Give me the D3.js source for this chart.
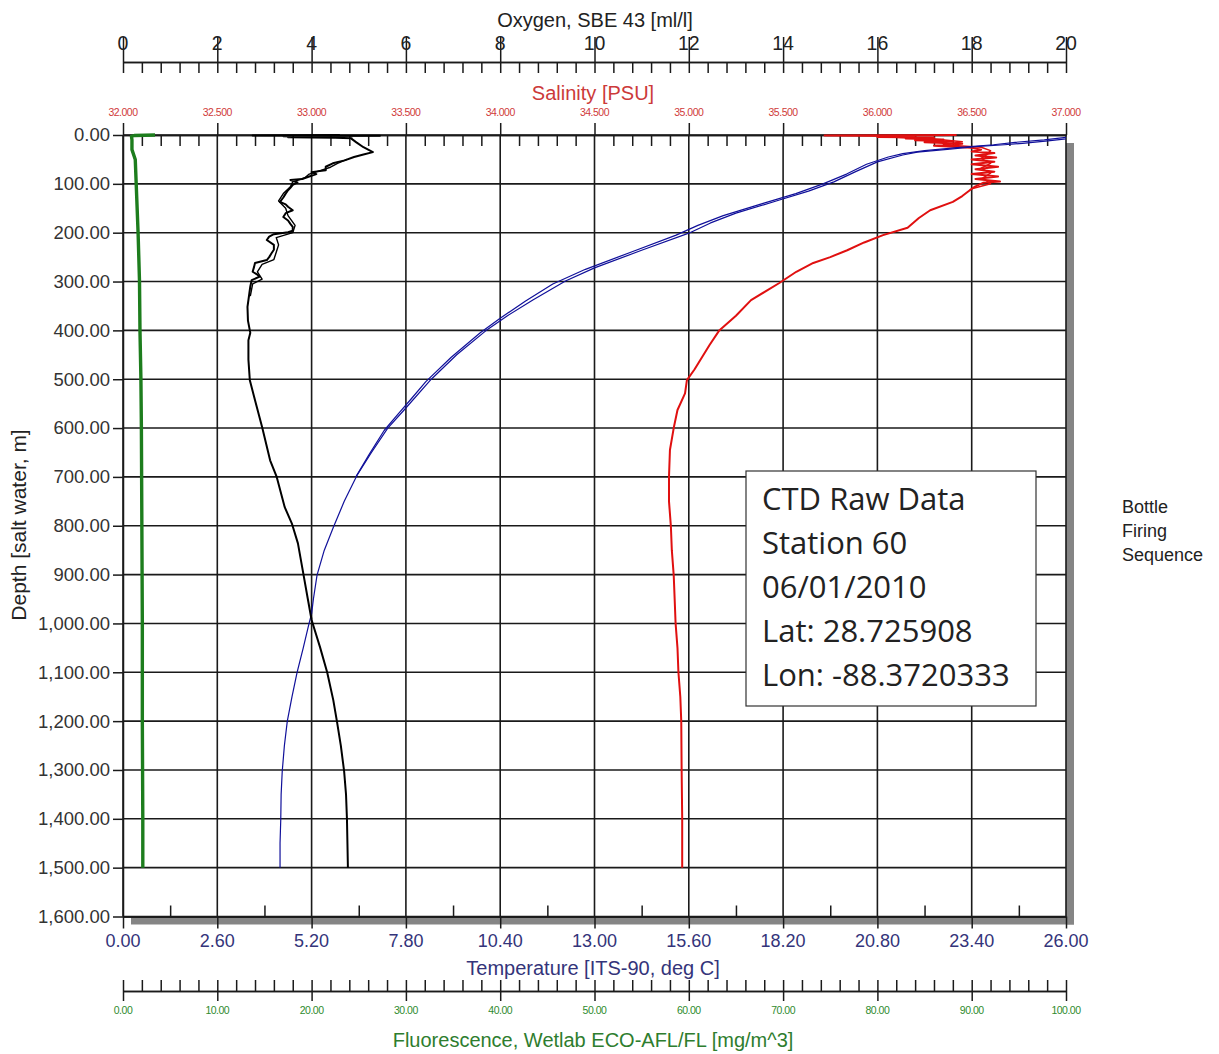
<!DOCTYPE html>
<html>
<head>
<meta charset="utf-8">
<script src="https://cdn.jsdelivr.net/npm/d3@7"></script>
<style>
  body { margin: 0; background: #fff; }
  svg text { font-family: "Liberation Sans", Arial, sans-serif; }
</style>
</head>
<body>
<svg id="chart" width="1219" height="1054"></svg>
<script>
// axis ticks
var depthTicks = [0, 100, 200, 300, 400, 500, 600, 700, 800, 900, 1000, 1100, 1200, 1300, 1400, 1500, 1600];
var tempTicks = [0, 2.6, 5.2, 7.8, 10.4, 13, 15.6, 18.2, 20.8, 23.4, 26];
var oxyTicks = [0, 2, 4, 6, 8, 10, 12, 14, 16, 18, 20];
var salTicks = [32, 32.5, 33, 33.5, 34, 34.5, 35, 35.5, 36, 36.5, 37];
var fluTicks = [0, 10, 20, 30, 40, 50, 60, 70, 80, 90, 100];

// temperature, downcast and upcast
var tempDepth = [0, 8, 12, 17, 20, 24, 29, 35, 41, 55, 75, 96, 115, 133, 160, 180, 201, 236, 272, 299, 338, 370, 401, 450, 500, 563, 600, 650, 697, 750, 803, 850, 901, 950, 980, 1000, 1050, 1100, 1150, 1200, 1250, 1303, 1350, 1401, 1450, 1500];
var tempValues = [26.4, 26.0, 25.5, 24.8, 24.3, 23.5, 22.8, 21.9, 21.5, 20.8, 20.2, 19.6, 18.9, 18.1, 16.9, 16.2, 15.6, 14.3, 13.0, 12.2, 11.3, 10.6, 10.0, 9.2, 8.5, 7.75, 7.3, 6.85, 6.45, 6.1, 5.8, 5.55, 5.35, 5.25, 5.2, 5.13, 4.97, 4.8, 4.66, 4.53, 4.45, 4.39, 4.36, 4.35, 4.33, 4.33];
var tempUpDepth = [5, 10, 15, 20, 26, 32, 38, 45, 60, 80, 100, 120, 140, 165, 185, 205, 240, 275, 305, 340, 375, 405, 455, 505, 540, 570, 605, 655, 700];
var tempUpValues = [26.0, 25.4, 24.6, 24.0, 23.0, 22.1, 21.5, 21.1, 20.5, 19.95, 19.3, 18.55, 17.65, 16.55, 15.85, 15.25, 14.0, 12.75, 11.85, 11.1, 10.4, 9.85, 9.05, 8.35, 7.95, 7.6, 7.2, 6.78, 6.42];

// oxygen
var oxyDepth = [0, 1, 1.5, 2.5, 3.5, 4.5, 5.5, 6.5, 8, 15, 25, 30, 35, 40, 45, 52, 58, 65, 72, 76, 80, 85, 90, 92, 97, 102, 108, 113, 120, 128, 137, 142, 147, 154, 160, 168, 175, 182, 188, 196, 199, 203, 208, 215, 225, 235, 242, 250, 256, 262, 270, 280, 286, 290, 297, 310, 324, 352, 380, 405, 420, 460, 502, 543, 598, 666, 700, 762, 795, 836, 901, 950, 993, 1049, 1100, 1157, 1202, 1250, 1303, 1350, 1401, 1450, 1500];
var oxyValues = [4.6, 2.75, 5.45, 3.4, 3.8, 3.5, 4.5, 4.85, 4.85, 4.95, 5.1, 5.2, 5.3, 5.1, 4.9, 4.7, 4.45, 4.3, 4.3, 4.0, 4.1, 3.95, 3.8, 3.55, 3.7, 3.6, 3.55, 3.5, 3.45, 3.4, 3.33, 3.45, 3.5, 3.6, 3.45, 3.4, 3.5, 3.55, 3.6, 3.6, 3.5, 3.2, 3.1, 3.05, 3.2, 3.2, 3.15, 3.1, 3.05, 2.8, 2.78, 2.75, 2.85, 2.9, 2.73, 2.7, 2.68, 2.64, 2.65, 2.7, 2.66, 2.66, 2.69, 2.8, 2.95, 3.12, 3.26, 3.43, 3.58, 3.71, 3.83, 3.92, 4.0, 4.18, 4.33, 4.46, 4.54, 4.62, 4.69, 4.73, 4.75, 4.76, 4.77];
var oxyUpDepth = [50, 58, 66, 74, 80, 88, 96, 106, 120, 135, 150, 165, 185, 200, 210, 225, 240, 255, 265, 280, 295, 305, 330];
var oxyUpValues = [4.75, 4.55, 4.4, 4.15, 3.95, 3.85, 3.6, 3.55, 3.4, 3.3, 3.45, 3.5, 3.65, 3.6, 3.25, 3.3, 3.25, 3.2, 2.95, 2.85, 2.95, 2.75, 2.7];

// salinity
var salDepth = [0, 1, 2, 3, 4, 5, 7, 9, 11, 13, 15, 18, 22, 26, 30, 34, 37, 42, 46, 50, 55, 60, 65, 70, 75, 80, 85, 90, 95, 98, 105, 113, 125, 137, 154, 170, 190, 205, 220, 236, 250, 262, 280, 303, 338, 370, 401, 430, 455, 480, 502, 529, 563, 600, 645, 700, 750, 801, 850, 901, 950, 1000, 1050, 1100, 1150, 1200, 1300, 1400, 1500];
var salValues = [36.42, 35.72, 36.1, 36.2, 36.0, 36.3, 36.15, 36.35, 36.2, 36.4, 36.25, 36.45, 36.3, 36.5, 36.55, 36.5, 36.62, 36.52, 36.63, 36.5, 36.62, 36.5, 36.64, 36.52, 36.62, 36.5, 36.64, 36.52, 36.65, 36.56, 36.52, 36.49, 36.45, 36.4, 36.28, 36.22, 36.16, 36.03, 35.93, 35.84, 35.75, 35.66, 35.57, 35.48, 35.33, 35.25, 35.16, 35.11, 35.07, 35.03, 34.99, 34.98, 34.94, 34.92, 34.9, 34.895, 34.895, 34.905, 34.91, 34.92, 34.925, 34.93, 34.94, 34.945, 34.955, 34.96, 34.962, 34.965, 34.965];
var salUpDepth = [3, 8, 14, 20, 25, 32, 40, 48, 58, 68, 78, 88, 100, 110];
var salUpValues = [36.0, 36.3, 36.45, 36.35, 36.55, 36.6, 36.58, 36.55, 36.6, 36.55, 36.6, 36.56, 36.6, 36.5];

// fluorescence
var fluDepth = [0, 1, 3, 10, 30, 50, 100, 200, 300, 400, 500, 600, 800, 1000, 1200, 1400, 1500];
var fluValues = [3.4, 1.2, 0.9, 0.95, 0.95, 1.3, 1.4, 1.6, 1.75, 1.8, 1.9, 1.95, 2.0, 2.05, 2.05, 2.1, 2.1];

var svg = d3.select("#chart");
var pLeft = 123, pRight = 1066, pTop = 135, pBottom = 916.5;

var yDepth = d3.scaleLinear().domain([0, 1600]).range([pTop, pBottom]);
var xTemp = d3.scaleLinear().domain([0, 26]).range([pLeft, pRight]);
var xOxy = d3.scaleLinear().domain([0, 20]).range([pLeft, pRight]);
var xSal = d3.scaleLinear().domain([32, 37]).range([pLeft, pRight]);
var xFlu = d3.scaleLinear().domain([0, 100]).range([pLeft, pRight]);

function pairs(depths, values) {
  return depths.map(function(d, i) { return [d, values[i]]; });
}

function steps(a, b, n) {
  // tick positions between majors
  var out = [];
  for (var i = 0; i <= n; i++) out.push(a + (b - a) * i / n);
  return out;
}

function styleAxis(g, color) {
  g.selectAll("path, line").attr("stroke", color).attr("stroke-width", 1.5);
}

// drop shadow
svg.append("rect").attr("x", pRight).attr("y", pTop + 8).attr("width", 8).attr("height", pBottom - pTop).attr("fill", "#858585");
svg.append("rect").attr("x", pLeft + 8).attr("y", pBottom).attr("width", pRight - pLeft).attr("height", 8).attr("fill", "#858585");
svg.append("rect").attr("x", pLeft).attr("y", pTop).attr("width", pRight - pLeft).attr("height", pBottom - pTop).attr("fill", "#fff");

// grid
svg.append("g").selectAll("line").data(tempTicks).enter().append("line")
  .attr("x1", function(d) { return xTemp(d); }).attr("x2", function(d) { return xTemp(d); })
  .attr("y1", pTop).attr("y2", pBottom)
  .attr("stroke", "#1a1a1a").attr("stroke-width", 1.6);
svg.append("g").selectAll("line").data(depthTicks).enter().append("line")
  .attr("x1", pLeft).attr("x2", pRight)
  .attr("y1", function(d) { return yDepth(d); }).attr("y2", function(d) { return yDepth(d); })
  .attr("stroke", "#1a1a1a").attr("stroke-width", 1.6);

// depth axis
var depthAxis = svg.append("g").attr("transform", "translate(" + pLeft + ",0)")
  .call(d3.axisLeft(yDepth).tickValues(depthTicks).tickSize(10).tickSizeOuter(0).tickPadding(3).tickFormat(d3.format(",.2f")));
styleAxis(depthAxis, "#1a1a1a");
depthAxis.selectAll("text").attr("font-size", 18.5).attr("fill", "#333");

// oxygen axis (top)
var oxyMinor = [];
for (var i = 0; i < oxyTicks.length - 1; i++) oxyMinor = oxyMinor.concat(steps(oxyTicks[i], oxyTicks[i + 1], 5).slice(0, 5));
oxyMinor.push(20);
var oxyY = 62;
var oxyAxis = svg.append("g").attr("transform", "translate(0," + oxyY + ")")
  .call(d3.axisBottom(xOxy).tickValues(oxyMinor).tickSize(11).tickSizeOuter(0).tickFormat(""));
styleAxis(oxyAxis, "#1a1a1a");
var oxyMajor = svg.append("g").attr("transform", "translate(0," + oxyY + ")")
  .call(d3.axisTop(xOxy).tickValues(oxyTicks).tickSize(25).tickSizeOuter(0).tickFormat(""));
styleAxis(oxyMajor, "#1a1a1a");
svg.append("g").selectAll("text").data(oxyTicks).enter().append("text")
  .attr("x", function(d) { return xOxy(d); }).attr("y", 50)
  .attr("text-anchor", "middle").attr("font-size", 19.5).attr("fill", "#222")
  .text(function(d) { return d; });
svg.append("text").attr("x", 595).attr("y", 27).attr("text-anchor", "middle")
  .attr("font-size", 20).attr("fill", "#222").text("Oxygen, SBE 43 [ml/l]");

// salinity axis (plot top)
var salMinor = [];
for (var i = 0; i < salTicks.length - 1; i++) salMinor = salMinor.concat(steps(salTicks[i], salTicks[i + 1], 5).slice(1, 5));
var salAxis = svg.append("g").attr("transform", "translate(0," + pTop + ")")
  .call(d3.axisBottom(xSal).tickValues(salMinor).tickSize(11).tickSizeOuter(0).tickFormat(""));
styleAxis(salAxis, "#1a1a1a");
var salMajor = svg.append("g").attr("transform", "translate(0," + pTop + ")")
  .call(d3.axisTop(xSal).tickValues(salTicks).tickSize(12).tickSizeOuter(0).tickFormat(""));
styleAxis(salMajor, "#1a1a1a");
svg.append("g").selectAll("text").data(salTicks).enter().append("text")
  .attr("x", function(d) { return xSal(d); }).attr("y", 116)
  .attr("text-anchor", "middle").attr("font-size", 10.5).attr("fill", "#d03a3a").attr("letter-spacing", -0.5)
  .text(function(d) { return d3.format(",.3f")(d); });
svg.append("text").attr("x", 593).attr("y", 100).attr("text-anchor", "middle")
  .attr("font-size", 20).attr("fill", "#cc3a3a").text("Salinity [PSU]");

// temperature axis (plot bottom)
var tempMinor = [];
for (var i = 0; i < tempTicks.length - 1; i++) tempMinor.push((tempTicks[i] + tempTicks[i + 1]) / 2);
var tempAxis = svg.append("g").attr("transform", "translate(0," + pBottom + ")")
  .call(d3.axisTop(xTemp).tickValues(tempMinor).tickSize(11).tickSizeOuter(0).tickFormat(""));
styleAxis(tempAxis, "#1a1a1a");
var tempMajor = svg.append("g").attr("transform", "translate(0," + pBottom + ")")
  .call(d3.axisBottom(xTemp).tickValues(tempTicks).tickSize(12).tickSizeOuter(0).tickFormat(""));
styleAxis(tempMajor, "#1a1a1a");
svg.append("g").selectAll("text").data(tempTicks).enter().append("text")
  .attr("x", function(d) { return xTemp(d); }).attr("y", 947)
  .attr("text-anchor", "middle").attr("font-size", 18).attr("fill", "#34347a")
  .text(function(d) { return d3.format(".2f")(d); });
svg.append("text").attr("x", 593).attr("y", 975).attr("text-anchor", "middle")
  .attr("font-size", 20).attr("fill", "#34347a").text("Temperature [ITS-90, deg C]");

// fluorescence axis
var fluMinor = [];
for (var i = 0; i < fluTicks.length - 1; i++) fluMinor = fluMinor.concat(steps(fluTicks[i], fluTicks[i + 1], 5).slice(0, 5));
fluMinor.push(100);
var fluY = 991;
var fluAxis = svg.append("g").attr("transform", "translate(0," + fluY + ")")
  .call(d3.axisTop(xFlu).tickValues(fluMinor).tickSize(11).tickSizeOuter(0).tickFormat(""));
styleAxis(fluAxis, "#1a1a1a");
var fluMajor = svg.append("g").attr("transform", "translate(0," + fluY + ")")
  .call(d3.axisBottom(xFlu).tickValues(fluTicks).tickSize(10).tickSizeOuter(0).tickFormat(""));
styleAxis(fluMajor, "#1a1a1a");
svg.append("g").selectAll("text").data(fluTicks).enter().append("text")
  .attr("x", function(d) { return xFlu(d); }).attr("y", 1014)
  .attr("text-anchor", "middle").attr("font-size", 10.5).attr("fill", "#2e8b2e").attr("letter-spacing", -0.5)
  .text(function(d) { return d3.format(".2f")(d); });
svg.append("text").attr("x", 593).attr("y", 1047).attr("text-anchor", "middle")
  .attr("font-size", 20).attr("fill", "#2e7d2e").text("Fluorescence, Wetlab ECO-AFL/FL [mg/m^3]");

// depth title
svg.append("text").attr("transform", "translate(26,525) rotate(-90)").attr("text-anchor", "middle")
  .attr("font-size", 21).attr("fill", "#222").text("Depth [salt water, m]");

// curves
svg.append("clipPath").attr("id", "plotClip").append("rect")
  .attr("x", pLeft).attr("y", pTop - 2).attr("width", pRight - pLeft).attr("height", pBottom - pTop + 2);
var curves = svg.append("g").attr("clip-path", "url(#plotClip)");

function drawCurve(data, xScale, color, width) {
  var line = d3.line()
    .x(function(d) { return xScale(d[1]); })
    .y(function(d) { return yDepth(d[0]); });
  curves.append("path").datum(data).attr("d", line)
    .attr("fill", "none").attr("stroke", color).attr("stroke-width", width)
    .attr("stroke-linejoin", "round");
}

drawCurve(pairs(fluDepth, fluValues), xFlu, "#1d7d1d", 3.4);
drawCurve(pairs(salDepth, salValues), xSal, "#e01010", 2);
drawCurve(pairs(salUpDepth, salUpValues), xSal, "#e01010", 1.5);
drawCurve(pairs(tempDepth, tempValues), xTemp, "#10109a", 1.2);
drawCurve(pairs(tempUpDepth, tempUpValues), xTemp, "#10109a", 1.2);
drawCurve(pairs(oxyDepth, oxyValues), xOxy, "#000", 2);
drawCurve(pairs(oxyUpDepth, oxyUpValues), xOxy, "#000", 1.4);

// info box
var box = svg.append("g");
box.append("rect").attr("x", 746).attr("y", 471).attr("width", 290).attr("height", 235)
  .attr("fill", "#fff").attr("stroke", "#333").attr("stroke-width", 1.2);
var infoLines = ["CTD Raw Data", "Station 60", "06/01/2010", "Lat: 28.725908", "Lon: -88.3720333"];
box.selectAll("text.info").data(infoLines).enter().append("text")
  .attr("class", "info")
  .attr("x", 762).attr("y", function(d, i) { return 510 + i * 44; })
  .style("font-family", "'Open Sans', sans-serif").attr("font-size", 31).attr("fill", "#222")
  .text(function(d) { return d; });

// side label
var sideLines = ["Bottle", "Firing", "Sequence"];
svg.append("g").selectAll("text").data(sideLines).enter().append("text")
  .attr("x", 1122).attr("y", function(d, i) { return 513 + i * 24; })
  .attr("font-size", 18).attr("fill", "#222")
  .text(function(d) { return d; });
</script>
</body>
</html>
